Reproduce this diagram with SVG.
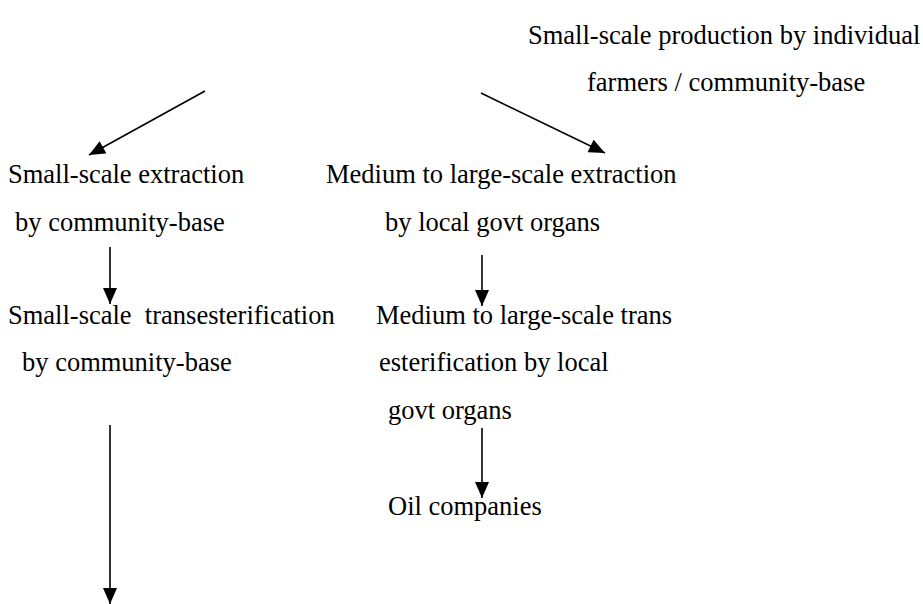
<svg xmlns="http://www.w3.org/2000/svg" width="923" height="604" viewBox="0 0 923 604">
<style>
text{font-family:"Liberation Serif","Times New Roman",serif;font-size:26.5px;fill:#000}
.c line{stroke:#000;stroke-width:1.6;fill:none}
</style>
<defs>
<marker id="ah" viewBox="0 0 10 10" refX="10" refY="5" markerWidth="10" markerHeight="10" markerUnits="userSpaceOnUse" orient="auto">
<path d="M0,0 L10,5 L0,10 z" fill="#000"/>
</marker>
<marker id="ahb" viewBox="0 0 16 14" refX="16" refY="7" markerWidth="17" markerHeight="14" markerUnits="userSpaceOnUse" orient="auto">
<path d="M0,0 L16,7 L0,14 z" fill="#000"/>
</marker>
</defs>
<rect width="923" height="604" fill="#fff"/>
<g id="n-production"><text x="528" y="44">Small-scale production by individual</text><text x="587" y="91">farmers / community-base</text></g>
<g id="n-small-extraction"><text x="8" y="183">Small-scale extraction</text><text x="15" y="231">by community-base</text></g>
<g id="n-large-extraction"><text x="326" y="183">Medium to large-scale extraction</text><text x="385" y="231">by local govt organs</text></g>
<g id="n-small-trans"><text x="8" y="324" xml:space="preserve">Small-scale  transesterification</text><text x="22" y="371">by community-base</text></g>
<g id="n-large-trans"><text x="376" y="324">Medium to large-scale trans</text><text x="379" y="371">esterification by local</text><text x="388" y="419">govt organs</text></g>
<g id="n-oil"><text x="388" y="515">Oil companies</text></g>
<g id="connectors" class="c">
<line x1="205" y1="91" x2="89" y2="155" marker-end="url(#ahb)"/>
<line x1="481" y1="93" x2="605" y2="153" marker-end="url(#ahb)"/>
<line x1="110" y1="247" x2="110" y2="304" marker-end="url(#ahb)"/>
<line x1="482" y1="255" x2="482" y2="306" marker-end="url(#ahb)"/>
<line x1="482" y1="428" x2="482" y2="498" marker-end="url(#ahb)"/>
<line x1="110" y1="425" x2="110" y2="604" marker-end="url(#ahb)"/>
</g>
</svg>
